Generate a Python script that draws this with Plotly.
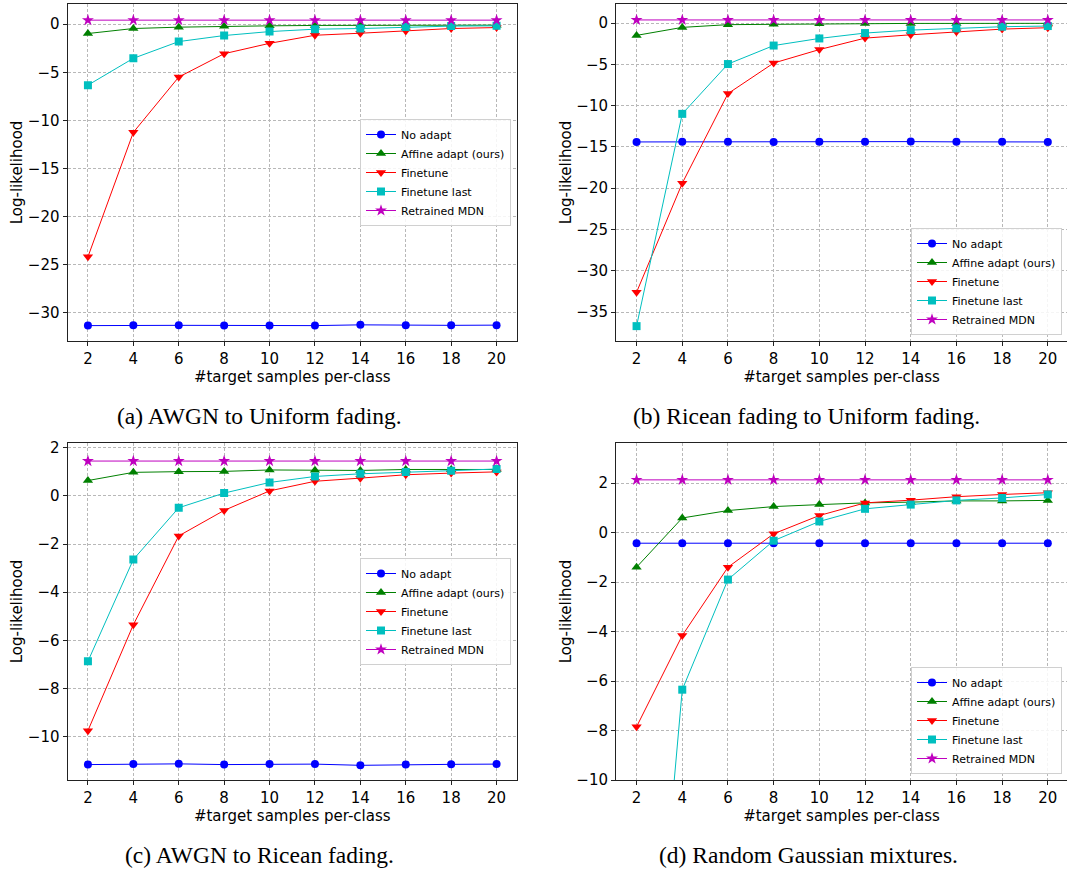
import plotly.graph_objects as go

# ---------------- data ----------------
x_samples = [2, 4, 6, 8, 10, 12, 14, 16, 18, 20]
x_ticks = [2, 4, 6, 8, 10, 12, 14, 16, 18, 20]

series_names = ["No adapt", "Affine adapt (ours)", "Finetune", "Finetune last", "Retrained MDN"]

# (a) AWGN to Uniform fading
a_no_adapt = [-31.35, -31.3, -31.32, -31.33, -31.33, -31.35, -31.27, -31.32, -31.32, -31.3]
a_affine = [-0.97, -0.45, -0.31, -0.22, -0.17, -0.13, -0.12, -0.1, -0.1, -0.1]
a_finetune = [-24.2, -11.25, -5.5, -3.07, -1.99, -1.15, -0.94, -0.7, -0.45, -0.35]
a_finetune_last = [-6.34, -3.55, -1.81, -1.18, -0.77, -0.52, -0.45, -0.3, -0.2, -0.17]
a_retrained = [0.42, 0.42, 0.42, 0.42, 0.42, 0.42, 0.42, 0.42, 0.42, 0.42]

# (b) Ricean fading to Uniform fading
b_no_adapt = [-14.4, -14.38, -14.37, -14.4, -14.39, -14.38, -14.36, -14.39, -14.39, -14.4]
b_affine = [-1.5, -0.53, -0.2, -0.15, -0.1, -0.06, -0.05, -0.05, -0.04, -0.04]
b_finetune = [-32.6, -19.4, -8.55, -4.85, -3.22, -1.83, -1.43, -1.06, -0.74, -0.57]
b_finetune_last = [-36.7, -11.0, -4.97, -2.73, -1.87, -1.22, -0.86, -0.65, -0.45, -0.37]
b_retrained = [0.37, 0.37, 0.37, 0.37, 0.37, 0.37, 0.37, 0.37, 0.37, 0.37]

# (c) AWGN to Ricean fading
c_no_adapt = [-11.16, -11.14, -11.13, -11.16, -11.14, -11.14, -11.19, -11.16, -11.15, -11.14]
c_affine = [0.64, 0.98, 1.01, 1.02, 1.08, 1.07, 1.06, 1.1, 1.1, 1.1]
c_finetune = [-9.75, -5.35, -1.66, -0.6, 0.21, 0.61, 0.74, 0.88, 0.95, 1.0]
c_finetune_last = [-6.87, -2.64, -0.49, 0.12, 0.56, 0.81, 0.92, 1.0, 1.05, 1.12]
c_retrained = [1.45, 1.45, 1.45, 1.45, 1.45, 1.45, 1.45, 1.45, 1.45, 1.45]

# (d) Random Gaussian mixtures
d_no_adapt = [-0.43, -0.43, -0.43, -0.43, -0.43, -0.43, -0.43, -0.43, -0.43, -0.43]
d_affine = [-1.4, 0.59, 0.89, 1.05, 1.13, 1.2, 1.23, 1.28, 1.28, 1.3]
d_finetune = [-7.85, -4.16, -1.4, -0.05, 0.69, 1.2, 1.31, 1.45, 1.54, 1.61]
d_finetune_last = [-27.2, -6.35, -1.9, -0.33, 0.45, 0.96, 1.13, 1.3, 1.4, 1.54]
d_retrained = [2.13, 2.13, 2.13, 2.13, 2.13, 2.13, 2.13, 2.13, 2.13, 2.13]

captions = ["(a) AWGN to Uniform fading.", "(b) Ricean fading to Uniform fading.",
            "(c) AWGN to Ricean fading.", "(d) Random Gaussian mixtures."]
x_title = "#target samples per-class"
y_title = "Log-likelihood"

# ---------------- styling ----------------
W, H = 1067, 874
colors = ["#0000FF", "#008000", "#FF0000", "#00BFBF", "#BF00BF"]
symbols = ["circle", "triangle-up", "triangle-down", "square", "star"]
msizes = [8, 9, 9, 8, 9]

panels = [
    dict(data=[a_no_adapt, a_affine, a_finetune, a_finetune_last, a_retrained],
         px=(67.5, 517), py=(4, 341), yrange=[-32.95, 2.1], dtick=5, xr=[1.1, 20.9],
         leg="center", mirror_y=True),
    dict(data=[b_no_adapt, b_affine, b_finetune, b_finetune_last, b_retrained],
         px=(616, 1067), py=(4, 341), yrange=[-38.5, 2.3], dtick=5, xr=[1.1, 20.84],
         leg="lower", mirror_y=False),
    dict(data=[c_no_adapt, c_affine, c_finetune, c_finetune_last, c_retrained],
         px=(67.5, 517), py=(443, 780), yrange=[-11.8, 2.2], dtick=2, xr=[1.1, 20.9],
         leg="center", mirror_y=True),
    dict(data=[d_no_adapt, d_affine, d_finetune, d_finetune_last, d_retrained],
         px=(616, 1067), py=(443, 780), yrange=[-10, 3.62], dtick=2, xr=[1.1, 20.84],
         leg="lower", mirror_y=False),
]

fig = go.Figure()
layout = dict(width=W, height=H, margin=dict(l=0, r=0, t=0, b=0, autoexpand=False),
              paper_bgcolor="white", plot_bgcolor="white",
              font=dict(family="DejaVu Sans", size=15, color="black"),
              annotations=[])

tick_font = dict(family="DejaVu Sans", size=15, color="black")

for i, p in enumerate(panels):
    k = "" if i == 0 else str(i + 1)
    xa, ya = "x" + k, "y" + k
    legname = "legend" + k
    for j, (name, vals) in enumerate(zip(series_names, p["data"])):
        fig.add_trace(go.Scatter(
            x=x_samples, y=vals, name=name, mode="lines+markers",
            line=dict(color=colors[j], width=1),
            marker=dict(symbol=symbols[j], size=msizes[j], color=colors[j],
                        line=dict(width=0)),
            xaxis=xa, yaxis=ya, legend=legname, showlegend=True, cliponaxis=True))
    x0, x1 = p["px"][0] / W, p["px"][1] / W
    y0, y1 = 1 - p["py"][1] / H, 1 - p["py"][0] / H
    axis_common = dict(showgrid=True, gridcolor="#b8b8b8", griddash="3px,2px", gridwidth=0.8,
                       zeroline=False, showline=True, linecolor="#222222", linewidth=1,
                       ticks="outside", ticklen=4, tickcolor="#222222", tickwidth=1,
                       tickfont=tick_font, automargin=False)
    layout["xaxis" + k] = dict(axis_common, domain=[x0, x1], range=p["xr"],
                               tickvals=x_ticks, anchor=ya, mirror=True,
                               title=dict(text=x_title, font=tick_font, standoff=1))
    layout["yaxis" + k] = dict(axis_common, domain=[y0, y1], range=p["yrange"],
                               dtick=p["dtick"], tick0=0, anchor=xa, mirror=p["mirror_y"],
                               title=dict(text=y_title, font=tick_font, standoff=1))
    leg = dict(bgcolor="rgba(255,255,255,0.85)", bordercolor="#d0d0d0", borderwidth=1,
               font=dict(family="DejaVu Sans", size=11, color="black"),
               xanchor="right", x=(p["px"][1] - 6 if p["px"][1] < W else 1062) / W,
               tracegroupgap=0)
    if p["leg"] == "center":
        leg.update(yanchor="middle", y=1 - (p["py"][0] + p["py"][1]) / 2 / H)
    else:
        leg.update(yanchor="bottom", y=1 - (p["py"][1] - 6) / H)
    layout[legname] = leg

cap_pos = [(259, 416), (806, 416), (259, 855), (808, 855)]
for (cx, cy), txt in zip(cap_pos, captions):
    layout["annotations"].append(dict(
        text=txt, x=cx / W, y=1 - cy / H, xref="paper", yref="paper",
        xanchor="center", yanchor="middle", showarrow=False,
        font=dict(family="Liberation Serif", size=23.5, color="black")))

fig.update_layout(**layout)
fig.write_html("out.html", config={"displayModeBar": False},
               post_script="document.body.style.margin='0';document.body.style.overflow='hidden';")
